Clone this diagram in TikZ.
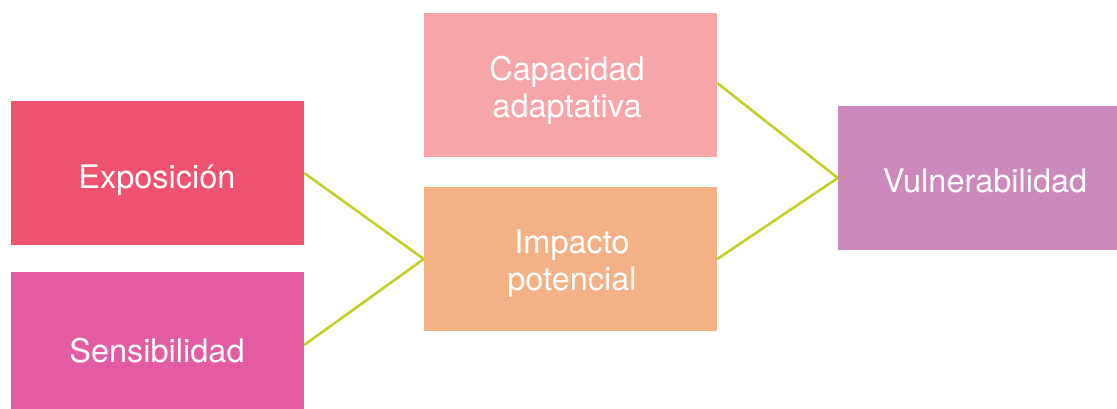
\documentclass[tikz,border=0pt]{standalone}
\usepackage{fontspec}
\setmainfont{TeX Gyre Heros}
\definecolor{cexp}{HTML}{EF5370}
\definecolor{csen}{HTML}{E35BA0}
\definecolor{ccap}{HTML}{F6A6A9}
\definecolor{cimp}{HTML}{F3B185}
\definecolor{cvul}{HTML}{CE89BC}
\definecolor{clink}{HTML}{C4CF2A}
\begin{document}
\begin{tikzpicture}[x=1pt,y=-1pt,
  box/.style={rectangle,inner sep=0pt},
  lbl/.style={text=white,anchor=base,inner sep=0pt,font=\fontsize{32.5}{37}\selectfont},
  link/.style={draw=clink,line width=2.6pt}]
\useasboundingbox (0,0) rectangle (1117,409);
\node[box,fill=cexp,minimum width=293pt,minimum height=144pt] (exp) at (157.5,173) {};
\node[lbl] (expt) at (157,189) {Exposición};
\node[box,fill=csen,minimum width=293pt,minimum height=144pt] (sen) at (157.5,344) {};
\node[lbl] (sent) at (157,362) {Sensibilidad};
\node[box,fill=ccap,minimum width=293pt,minimum height=144pt] (cap) at (570.5,85) {};
\node[lbl] (capt1) at (567,81) {Capacidad};
\node[lbl] (capt2) at (567,118) {adaptativa};
\node[box,fill=cimp,minimum width=293pt,minimum height=144pt] (imp) at (570.5,259) {};
\node[lbl] (impt1) at (572,253) {Impacto};
\node[lbl] (impt2) at (572,290) {potencial};
\node[box,fill=cvul,minimum width=279pt,minimum height=144pt] (vul) at (977.5,178) {};
\node[lbl] (vult) at (985,193) {Vulnerabilidad};
\draw[link] (exp.east) -- (imp.west);
\draw[link] ([yshift=-1pt]sen.east) -- (imp.west);
\draw[link] ([yshift=2pt]cap.east) -- (vul.west);
\draw[link] (imp.east) -- (vul.west);
\end{tikzpicture}
\end{document}
